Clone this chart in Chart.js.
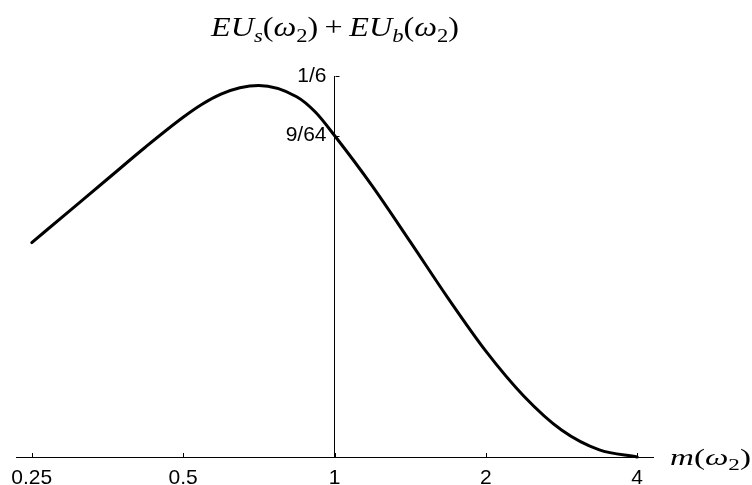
<!DOCTYPE html>
<html lang="en">
<head>
  <meta charset="UTF-8">
  <meta name="viewport" content="width=device-width, initial-scale=1.0">
  <title>EU curve</title>
  <style>
    html, body {
      margin: 0;
      padding: 0;
      background: #fff;
    }
    .chart-container {
      position: relative;
      width: 752px;
      height: 485px;
    }
    .math {
      position: absolute;
      font-family: "Liberation Serif", "DejaVu Serif", serif;
      color: #000;
      white-space: nowrap;
      line-height: 1;
      transform-origin: 0 0;
    }
    .math sub {
      font-size: 0.7em;
      vertical-align: -0.3em;
      line-height: 0;
    }
    .math .op {
      margin: 0 0.2em;
    }
    #title {
      left: 211px;
      top: 13px;
      font-size: 28px;
      transform: scaleX(1.15);
    }
    #xlabel {
      left: 670px;
      top: 445px;
      font-size: 24px;
      transform: scaleX(1.38);
    }
  </style>
</head>
<body>
  <div class="chart-container">
    <canvas id="myChart"></canvas>
    <div class="math" id="title"><i>EU</i><sub><i>s</i></sub>(<i>ω</i><sub>2</sub>)<span class="op">+</span><i>EU</i><sub><i>b</i></sub>(<i>ω</i><sub>2</sub>)</div>
    <div class="math" id="xlabel"><i>m</i>(<i>ω</i><sub>2</sub>)</div>
  </div>

  <script src="https://cdn.jsdelivr.net/npm/chart.js"></script>
  <script>
    // m(w2) on a log axis (powers of two), EU_s + EU_b on the vertical
    const mValues = [0.25, 0.2973, 0.3536, 0.4204, 0.5, 0.5453, 0.5946, 0.6484, 0.7071, 0.8409, 0.917, 1,
      1.1892, 1.4142, 1.6818, 2, 2.3784, 2.8284, 3.3636, 4];
    const euValues = [0.0938, 0.1077, 0.1216, 0.1355, 0.1486, 0.1543, 0.1587, 0.1615, 0.1625, 0.1576, 0.1508, 0.140625,
      0.1185, 0.0942, 0.0695, 0.0463, 0.0267, 0.0118, 0.0031, 0];

    const xTickValues = [0.25, 0.5, 1, 2, 4];
    const xTickLabels = ['0.25', '0.5', '1', '2', '4'];
    const yTickValues = [9 / 64, 1 / 6];
    const yTickLabels = ['9/64', '1/6'];

    // Axis range, symmetric around m = 1 so the vertical axis sits in the middle
    const X_MIN = 1 / 4.3;
    const X_MAX = 4.3;

    const tickFont = {family: '"Liberation Sans", Arial, sans-serif', size: 21};

    // Short tick marks drawn on the inner side of both axes.
    const innerTicks = {
      id: 'innerTicks',
      afterDatasetsDraw(chart) {
        const {ctx, scales: {x, y}} = chart;
        const yBase = y.getPixelForValue(0);
        const xBase = Math.round(x.getPixelForValue(1)) + 0.5;
        ctx.save();
        ctx.strokeStyle = '#000';
        ctx.lineWidth = 1;
        ctx.beginPath();
        xTickValues.forEach(v => {
          const px = Math.round(x.getPixelForValue(v)) + 0.5;
          ctx.moveTo(px, yBase);
          ctx.lineTo(px, yBase - 4);
        });
        yTickValues.forEach(v => {
          const py = Math.round(y.getPixelForValue(v)) + 0.5;
          ctx.moveTo(xBase, py);
          ctx.lineTo(xBase + 4, py);
        });
        ctx.stroke();
        ctx.restore();
      }
    };

    function drawChart() {
      const myChart = document.querySelector('#myChart');

      const config = {
        type: 'line',
        data: {
          datasets: [{
            data: mValues.map((m, i) => ({x: m, y: euValues[i]})),
            borderColor: '#000',
            borderWidth: 3,
            pointRadius: 0,
            fill: false,
            clip: false,
            cubicInterpolationMode: 'monotone',
            borderCapStyle: 'round',
            borderJoinStyle: 'round'
          }]
        },
        options: {
          responsive: true,
          maintainAspectRatio: false,
          animation: false,
          layout: {
            padding: {left: 16, right: 99, top: 76, bottom: 0}
          },
          plugins: {
            legend: {display: false},
            tooltip: {enabled: false},
            title: {display: false}
          },
          scales: {
            x: {
              type: 'logarithmic',
              min: X_MIN,
              max: X_MAX,
              grid: {display: false, drawTicks: false},
              border: {display: true, color: '#000', width: 1},
              afterBuildTicks: scale => {
                scale.ticks = xTickValues.map(v => ({value: v}));
              },
              afterFit: scale => {
                scale.paddingLeft = 0;
                scale.paddingRight = 0;
                // keep the axis line at a fixed distance from the bottom edge
                scale.height = 28;
              },
              ticks: {
                color: '#000',
                font: tickFont,
                padding: 9,
                maxRotation: 0,
                autoSkip: false,
                callback: (value, index) => xTickLabels[index]
              }
            },
            y: {
              type: 'linear',
              position: 'center',
              min: 0,
              max: 1 / 6,
              grid: {display: false, drawTicks: false},
              border: {display: true, color: '#000', width: 1},
              afterBuildTicks: scale => {
                scale.ticks = yTickValues.map(v => ({value: v}));
              },
              ticks: {
                color: '#000',
                font: tickFont,
                padding: 8,
                autoSkip: false,
                callback: (value, index) => yTickLabels[index]
              }
            }
          }
        },
        plugins: [innerTicks]
      };

      return new Chart(myChart, config);
    }

    const chart = drawChart();
    window.chart = chart;
  </script>
</body>
</html>
